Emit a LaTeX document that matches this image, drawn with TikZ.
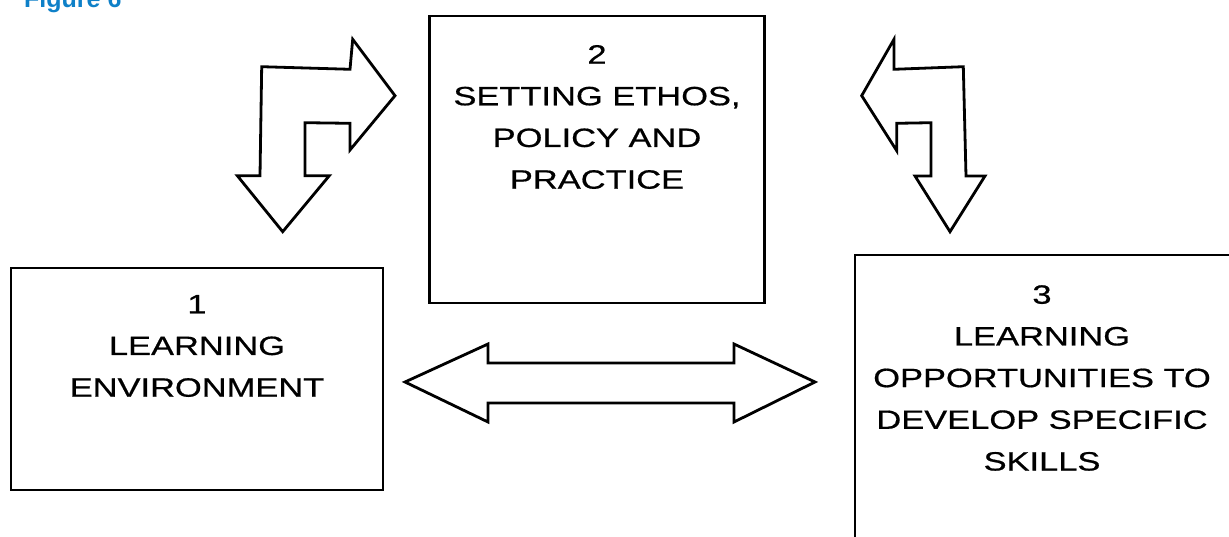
\documentclass[tikz,border=0pt]{standalone}
\usepackage{fontspec}
\newfontfamily\boxfont{Liberation Sans}[FakeStretch=1.3,FakeBold=0.6]
\newfontfamily\figfont{Liberation Sans}
\definecolor{figblue}{RGB}{14,128,200}
\begin{document}
\begin{tikzpicture}[x=1pt,y=-1pt,
  box/.style={draw=black,line width=2.6pt,rectangle,inner sep=0pt},
  txt/.style={align=center,inner sep=0pt,font=\boxfont\fontsize{26.5}{41.7}\selectfont},
  bigarrow/.style={draw=black,line width=2.8pt,line join=miter,fill=white}]
\useasboundingbox (0,0) rectangle (1229,537);
\clip (0,0) rectangle (1229,537);
% boxes
\node[box,minimum width=372pt,minimum height=222pt] (b1) at (197,379) {};
\node[box,minimum width=335pt,minimum height=287pt] (b2) at (597,159.5) {};
\node[box,minimum width=400pt,minimum height=320pt] (b3) at (1055,415) {};
% texts
\node[txt] (t1) at (197,346) {1\\LEARNING\\ENVIRONMENT};
\node[txt] (t2) at (597,117) {2\\SETTING ETHOS,\\POLICY AND\\PRACTICE};
\node[txt] (t3) at (1042,378) {3\\LEARNING\\OPPORTUNITIES TO\\DEVELOP SPECIFIC\\SKILLS};
% figure label
\node[anchor=base west,inner sep=0pt,text=figblue,font=\figfont\bfseries\fontsize{25}{30}\selectfont] (fig) at (24,8) {Figure 6};
% left L-shaped double arrow
\draw[bigarrow] (352.7,39.3) -- (395,95.7) -- (350,150) -- (350,123.3) -- (305,122.7)
  -- (305,175.7) -- (329.3,175.7) -- (282.7,231.7) -- (237.3,175.7) -- (260,175.7)
  -- (261.7,66.7) -- (350,69.3) -- cycle;
% right L-shaped double arrow
\draw[bigarrow] (894,39.3) -- (861.7,95.7) -- (896.7,150.7) -- (896.7,123.3) -- (931,122.7)
  -- (931,176) -- (915,176) -- (950,231.7) -- (985,176) -- (966,176)
  -- (963.3,66.7) -- (894,69.3) -- cycle;
% horizontal double arrow
\draw[bigarrow] (405,382) -- (488,344) -- (488,363) -- (734,363) -- (734,344) -- (815,382)
  -- (734,422) -- (734,403) -- (488,403) -- (488,422) -- cycle;
\end{tikzpicture}
\end{document}
